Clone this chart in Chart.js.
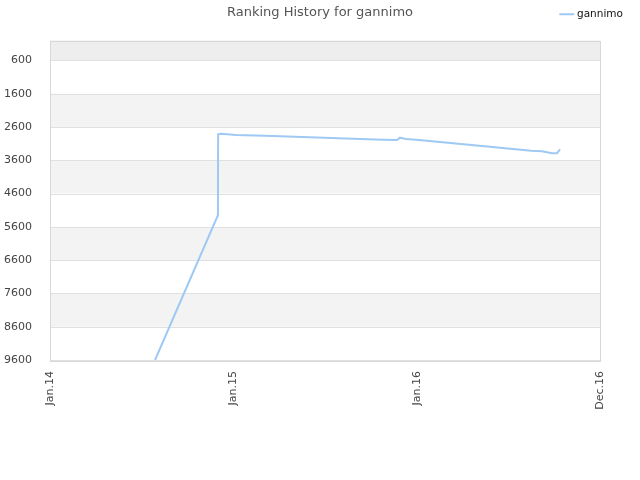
<!DOCTYPE html>
<html>
<head>
<meta charset="utf-8">
<script src="https://cdn.jsdelivr.net/npm/chart.js@4/dist/chart.umd.min.js"></script>
<style>
  body { margin: 0; background: #fff; }
  #wrap { position: relative; width: 640px; height: 480px; }
  #title { position: absolute; top: 4px; left: 0; width: 640px; text-align: center;
           font: 13px "DejaVu Sans", sans-serif; color: #555; }
</style>
</head>
<body>
<div id="wrap">
  <div id="title">Ranking History for gannimo</div>
  <canvas id="chart" width="640" height="480"></canvas>
</div>
<script>
// x in years since Jan.14 (0 = Jan.14, 1 = Jan.15, 2 = Jan.16, 3 = Dec.16)
const xLabels = ['Jan.14', 'Jan.15', 'Jan.16', 'Dec.16'];
const yTicks = [600, 1600, 2600, 3600, 4600, 5600, 6600, 7600, 8600, 9600];

const times = [0.573, 0.916, 0.917, 0.933, 1.015, 1.173, 1.336, 1.495, 1.653, 1.816, 1.893,
               1.909, 1.942, 1.996, 2.056, 2.111, 2.171, 2.225, 2.285, 2.340, 2.400, 2.455,
               2.509, 2.569, 2.624, 2.684, 2.738, 2.765, 2.782];
const ranks = [9600, 5250, 2820, 2805, 2840, 2865, 2895, 2925, 2955, 2985, 2990,
               2920, 2960, 2980, 3015, 3045, 3075, 3105, 3135, 3165, 3195, 3225,
               3255, 3285, 3315, 3330, 3390, 3390, 3270];

const bandPlugin = {
    id: 'bands',
    beforeDatasetsDraw(chart) {
        const { ctx, chartArea, scales } = chart;
        const y = scales.y;
        const edges = [0].concat(yTicks);
        ctx.save();
        for (let i = 0; i < edges.length - 1; i++) {
            const top = y.getPixelForValue(edges[i]);
            const bot = y.getPixelForValue(edges[i + 1]);
            ctx.fillStyle = i === 0 ? '#eeeeee' : (i % 2 === 0 ? '#f3f3f3' : '#ffffff');
            ctx.fillRect(chartArea.left, top, chartArea.right - chartArea.left, bot - top);
        }
        ctx.strokeStyle = '#e0e0e0';
        ctx.lineWidth = 1;
        yTicks.forEach(v => {
            const p = Math.round(y.getPixelForValue(v)) + 0.5;
            ctx.beginPath();
            ctx.moveTo(chartArea.left, p);
            ctx.lineTo(chartArea.right, p);
            ctx.stroke();
        });
        ctx.strokeStyle = '#d8d8d8';
        ctx.strokeRect(Math.round(chartArea.left) + 0.5, Math.round(chartArea.top) + 0.5,
                       Math.round(chartArea.right - chartArea.left), Math.round(chartArea.bottom - chartArea.top));
        ctx.restore();
    }
};

new Chart(document.getElementById('chart'), {
    type: 'line',
    data: {
        datasets: [{
            label: 'gannimo',
            data: times.map((t, i) => ({ x: t, y: ranks[i] })),
            borderColor: '#9ec9f3',
            backgroundColor: '#9ec9f3',
            borderWidth: 2,
            pointRadius: 0,
            tension: 0
        }]
    },
    options: {
        responsive: false,
        animation: false,
        layout: { padding: { left: 0, right: 8, top: 0, bottom: 0 } },
        plugins: {
            title: { display: false },
            tooltip: { enabled: false },
            legend: {
                position: 'top',
                align: 'end',
                labels: {
                    usePointStyle: true,
                    pointStyle: 'line',
                    boxWidth: 10,
                    color: '#111',
                    font: { family: 'DejaVu Sans', size: 10.5 },
                    padding: 9
                }
            }
        },
        scales: {
            x: {
                type: 'linear',
                min: 0,
                max: 3,
                afterBuildTicks: s => { s.ticks = [0, 1, 2, 3].map(v => ({ value: v })); },
                afterFit: s => { s.height = 120; },
                grid: { display: false },
                border: { display: false },
                ticks: {
                    color: '#444',
                    font: { family: 'DejaVu Sans', size: 11 },
                    minRotation: 90,
                    maxRotation: 90,
                    callback: v => xLabels[v]
                }
            },
            xTop: {
                type: 'linear',
                position: 'top',
                min: 0,
                max: 3,
                afterFit: s => { s.height = 11; },
                grid: { display: false },
                border: { display: false },
                ticks: { display: false }
            },
            y: {
                reverse: true,
                min: 0,
                max: 9600,
                afterBuildTicks: s => { s.ticks = yTicks.map(v => ({ value: v })); },
                afterFit: s => { s.width = 50; },
                grid: { display: false },
                border: { display: false },
                ticks: {
                    color: '#444',
                    font: { family: 'DejaVu Sans', size: 11 },
                    padding: 10,
                    callback: v => String(v)
                }
            },
            yRight: {
                position: 'right',
                min: 0,
                max: 9600,
                afterFit: s => { s.width = 32; },
                grid: { display: false },
                border: { display: false },
                ticks: { display: false }
            }
        }
    },
    plugins: [bandPlugin]
});
</script>
</body>
</html>
